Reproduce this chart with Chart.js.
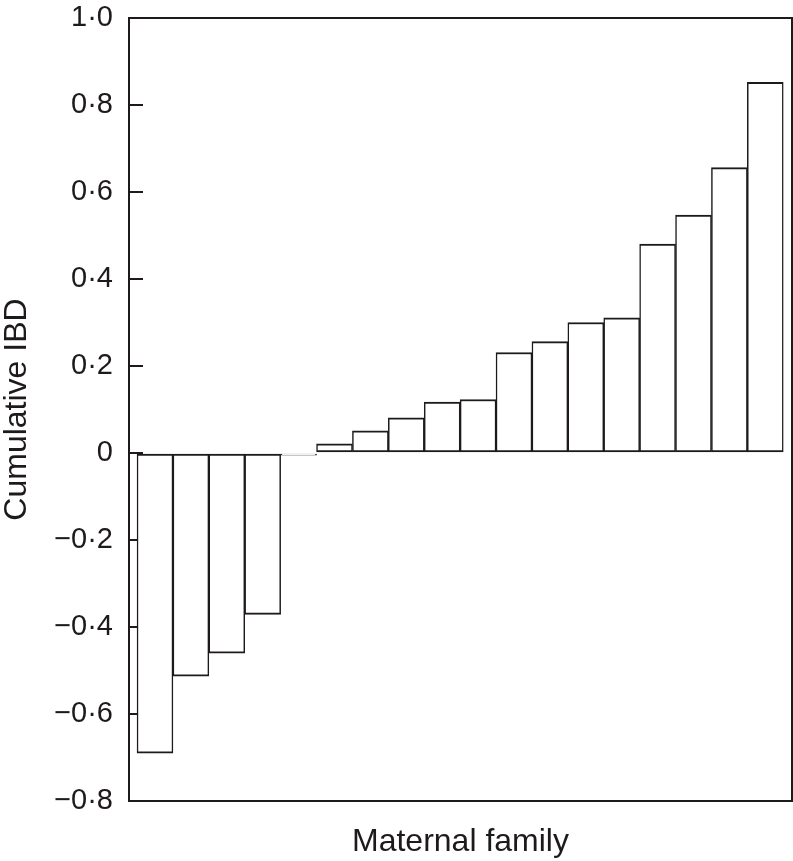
<!DOCTYPE html>
<html lang="en">
  <head>
    <meta charset="UTF-8" />
    <title>Cumulative IBD by maternal family</title>
    <script src="https://cdn.jsdelivr.net/npm/chart.js@4"></script>
    <style>
      body { margin: 0; background: #fff; }
    </style>
  </head>
  <body>
    <canvas id="myChart" width="793" height="861"></canvas>

    <script>
      // maternal families, sorted by cumulative IBD
      const families = [1, 2, 3, 4, 5, 6, 7, 8, 9, 10, 11, 12, 13, 14, 15, 16, 17, 18];
      const cumulativeIBD = [-0.69, -0.513, -0.46, -0.371, -0.005, 0.021, 0.051, 0.081, 0.117,
        0.123, 0.231, 0.256, 0.300, 0.311, 0.480, 0.547, 0.656, 0.852];
      const yTicks = [-0.8, -0.6, -0.4, -0.2, 0, 0.2, 0.4, 0.6, 0.8, 1.0];

      const FONT = 'Liberation Sans, Arial, Helvetica, sans-serif';
      const INK = '#1e1a1b';
      const xMin = 0.276, xMax = 18.744;

      // 0.2 -> "0·2", -0.4 -> "−0·4"
      function fmt(v) {
        const r = Math.round(v * 10) / 10;
        if (r === 0) return '0';
        return r.toFixed(1).replace('.', '\u00b7').replace('-', '\u2212');
      }

      const points = families.map((f, i) => ({ x: f, y: cumulativeIBD[i] }));

      const ctx = document.getElementById('myChart').getContext('2d');
      const myChart = new Chart(ctx, {
        type: 'bar',
        data: {
          datasets: [
            {
              label: 'Cumulative IBD',
              data: points,
              backgroundColor: '#fff',
              borderColor: INK,
              borderWidth: { top: 2, bottom: 2, left: 1.5, right: 1.5 },
              borderSkipped: false,
              barPercentage: 1,
              categoryPercentage: 1
            }
          ]
        },
        options: {
          responsive: false,
          animation: false,
          devicePixelRatio: 1,
          layout: { padding: 0 },
          plugins: { legend: { display: false }, tooltip: { enabled: false } },
          scales: {
            x: {
              type: 'linear',
              position: 'bottom',
              min: xMin,
              max: xMax,
              offset: false,
              ticks: { display: false },
              grid: { display: false },
              border: { display: true, color: INK, width: 2 },
              title: {
                display: true,
                text: 'Maternal family',
                color: INK,
                font: { family: FONT, size: 32, lineHeight: 1.2 },
                padding: 0
              },
              afterFit: s => { s.height = 60; s.paddingLeft = 0; s.paddingRight = 0; }
            },
            xTop: {
              type: 'linear',
              position: 'top',
              min: xMin,
              max: xMax,
              ticks: { display: false },
              grid: { display: false },
              border: { display: true, color: INK, width: 2 },
              afterFit: s => { s.height = 18; }
            },
            y: {
              min: -0.8,
              max: 1.0,
              afterBuildTicks: s => { s.ticks = yTicks.map(v => ({ value: v })); },
              ticks: {
                color: INK,
                font: { family: FONT, size: 29 },
                padding: 30,
                callback: v => fmt(v)
              },
              grid: {
                drawOnChartArea: false,
                drawTicks: true,
                tickLength: -14,
                color: INK,
                lineWidth: 2
              },
              border: { display: true, color: INK, width: 2 },
              title: {
                display: true,
                text: 'Cumulative IBD',
                color: INK,
                font: { family: FONT, size: 32, lineHeight: 1 },
                padding: { top: 1, bottom: 0 }
              },
              afterFit: s => { s.width = 129; s.paddingTop = 0; s.paddingBottom = 0; }
            },
            yRight: {
              position: 'right',
              min: -0.8,
              max: 1.0,
              ticks: { display: false },
              grid: { display: false },
              border: { display: true, color: INK, width: 2 },
              afterFit: s => { s.width = 1; s.paddingTop = 0; s.paddingBottom = 0; }
            }
          }
        }
      });
    </script>
  </body>
</html>
